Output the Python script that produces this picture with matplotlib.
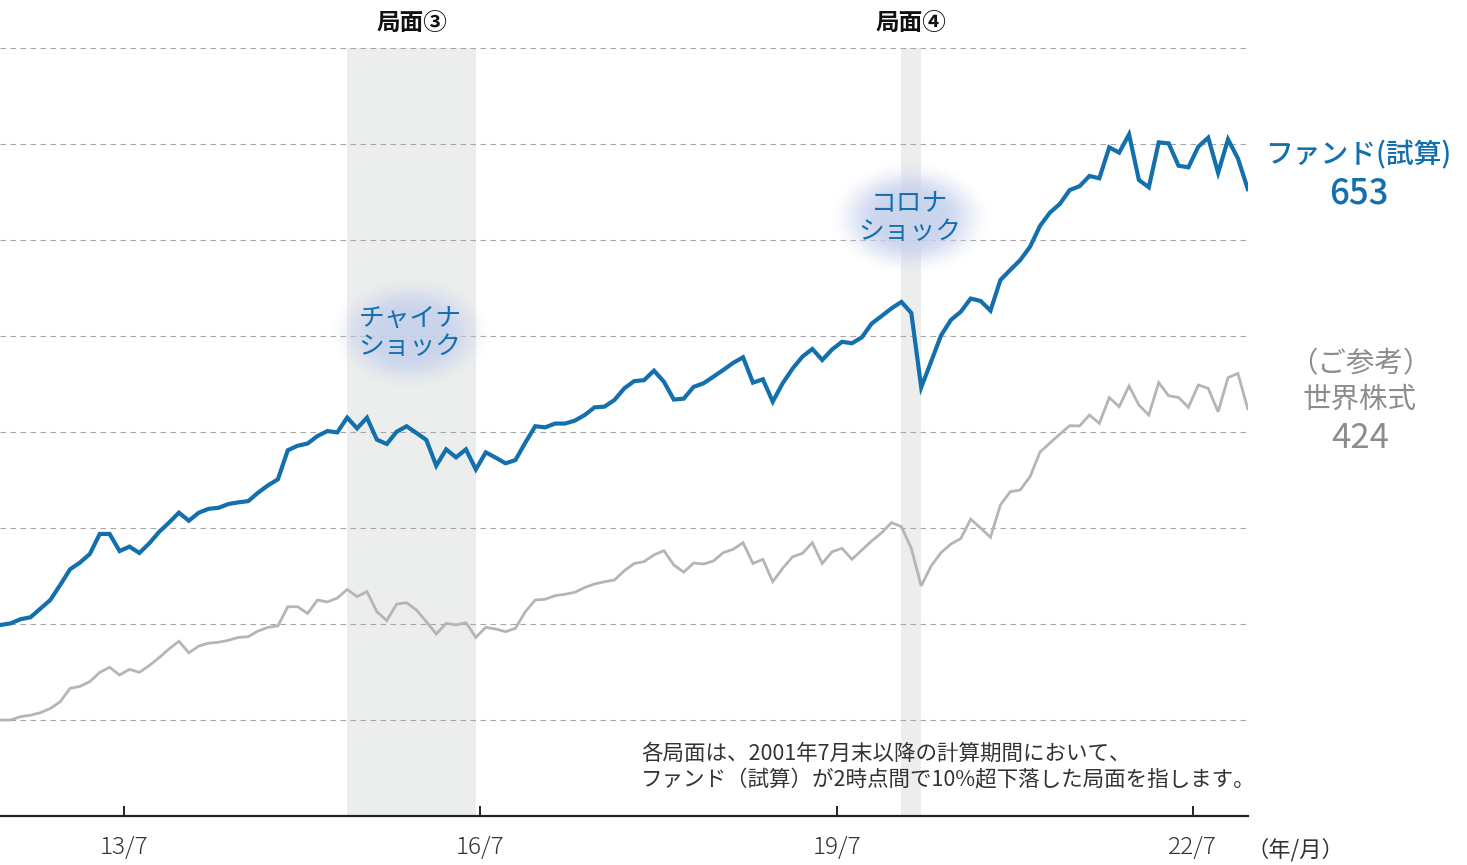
import numpy as np
import pandas as pd
import matplotlib
matplotlib.use("Agg")
import matplotlib.pyplot as plt

plt.rcParams['font.family'] = ['Noto Sans CJK JP', 'DejaVu Sans']

# ---------------- data ----------------
start_month = "2012-06"
fund = [199, 200.7, 205, 207, 216, 225, 240.6, 257, 264, 273,
        293.8, 293.8, 276, 280.6, 274, 284, 296, 305.6, 316, 307.6,
        315.9, 320, 321, 325, 326.7, 328, 336.8, 344.4, 350.7, 381,
        385.7, 388, 395.8, 401, 399.6, 415, 403.8, 414.9, 392, 387.5,
        400.3, 406, 399, 391.7, 364.9, 381.9, 373.6, 381.9, 361, 378.8,
        373.3, 367.4, 370.8, 388.9, 406, 404.8, 408.8, 408.8, 411.8, 417.7,
        425.7, 426.4, 433.3, 445.5, 453, 454, 463.9, 452.4, 433.8, 434.7,
        447, 450.7, 457.6, 464.6, 472, 477.8, 451.4, 454.9, 431.6, 450.7,
        466, 478.5, 486.5, 475, 486, 494, 492.4, 498.6, 513, 520.8,
        528.8, 535.5, 524, 446.5, 473.3, 500.5, 516.7, 525.3, 539, 536.5,
        526.4, 558.3, 568.8, 579, 593, 614.6, 628.5, 637.5, 652, 656,
        666.7, 664.3, 696.5, 691, 710, 662.5, 654.9, 701.7, 700.7, 677.4,
        675.7, 697.2, 706.6, 670, 704.8, 685, 653]
world = [100, 100, 103.5, 105, 107.6, 112, 119, 133, 135, 140,
         149.6, 154.9, 146.9, 152.8, 149.6, 156.6, 165, 174, 182, 170,
         177, 180, 181, 183, 186, 186.8, 192.7, 196.5, 198, 218,
         218, 211, 225, 223, 227, 236, 228.5, 233.7, 212.8, 203.5,
         220.8, 222.2, 214.6, 202.4, 189.6, 200.7, 199, 201.4, 186, 196.5,
         194.8, 192, 195.5, 212.8, 225, 225.7, 229.5, 231, 233, 238,
         241.7, 244, 245.8, 255.5, 263, 265, 272, 276.4, 261.5, 254,
         263.5, 262.5, 265.6, 274.3, 277.8, 284.7, 263, 267.4, 244, 258,
         270, 273.6, 284.7, 263, 275.3, 278.8, 267.4, 277, 286.5, 295,
         305.6, 301.4, 278.8, 239.6, 260.4, 274.3, 283.3, 289, 309.2, 300,
         290.3, 324, 337.8, 339.6, 353.5, 379, 388.5, 397.7, 406.6, 406.3,
         417.7, 409, 435.8, 426.4, 447.9, 428, 417.7, 451.4, 437.8, 436,
         425.7, 449, 445.5, 421, 456.6, 461, 424]
tick_months = ["2013-07", "2016-07", "2019-07", "2022-07"]
tick_labels = ["13/7", "16/7", "19/7", "22/7"]
phase_names = ["局面③", "局面④"]
phase_ranges = [("2015-05", "2016-06"), ("2020-01", "2020-03")]
event_labels = ["チャイナ\nショック", "コロナ\nショック"]
event_x = [41.35, 91.85]
event_y = [503, 623]
fund_label = "ファンド(試算)"
world_label = "（ご参考）\n世界株式"
note = "各局面は、2001年7月末以降の計算期間において、\nファンド（試算）が2時点間で10%超下落した局面を指します。"

months = pd.period_range(start_month, periods=len(fund), freq="M")
idx = {str(m): i for i, m in enumerate(months)}
x = np.arange(len(fund))

BLUE = "#1470ad"
GREY = "#b5b5b5"
W, H = 1467, 865

fig = plt.figure(figsize=(W / 100, H / 100), dpi=100)
ax = fig.add_axes([0, 49 / H, 1248 / W, 768 / H])

# shaded phases
for (a, b) in phase_ranges:
    ax.axvspan(idx[a], idx[b], color="#eceeed", zorder=0, lw=0)

# glow bubbles behind event labels
gx = np.linspace(-1, 1, 240)
GX, GY = np.meshgrid(gx, gx)
R = np.sqrt(GX ** 2 + GY ** 2)
t = np.clip((R - 0.38) / 0.62, 0, 1)
alpha = (1 - t * t * (3 - 2 * t)) * 0.9
rgba = np.zeros((240, 240, 4))
rgba[..., 0] = 0.78
rgba[..., 1] = 0.82
rgba[..., 2] = 0.925
rgba[..., 3] = alpha
for cx, cy in zip(event_x, event_y):
    ax.imshow(rgba, extent=[cx - 8.3, cx + 8.3, cy - 60, cy + 60],
              aspect="auto", zorder=1.5, interpolation="bilinear")

for lab, cx, cy in zip(event_labels, event_x, event_y):
    ax.text(cx, cy, lab, ha="center", va="center", color=BLUE,
            fontsize=18.5, linespacing=1.1, zorder=5)

ax.plot(x, world, color=GREY, lw=2.0, zorder=3, solid_joinstyle="miter")
ax.plot(x, fund, color=BLUE, lw=3.0, zorder=4, solid_joinstyle="miter")

ax.set_xlim(-0.08, 126.02)
ax.set_ylim(0, 800)
ax.set_yticks(np.arange(0, 801, 100))
ax.set_yticklabels([])
ax.tick_params(axis="y", length=0)
ax.grid(axis="y", color="#a5a5a5", lw=0.8, linestyle=(0, (5, 4)))
ax.set_axisbelow(True)
ax.set_xticks([idx[m] - 0.55 for m in tick_months])
ax.set_xticklabels(tick_labels, fontsize=17.5, color="#333333", fontweight="light")
ax.tick_params(axis="x", direction="in", length=7, width=1.4, color="#222222", pad=14)
for s in ["top", "left", "right"]:
    ax.spines[s].set_visible(False)
ax.spines["bottom"].set_color("#222222")
ax.spines["bottom"].set_linewidth(1.6)
ax.patch.set_alpha(0)

# phase titles
for name, (a, b) in zip(phase_names, phase_ranges):
    xc = (idx[a] + idx[b]) / 2
    ax.text(xc, 800 + 26, name, ha="center", va="center", fontsize=17,
            fontweight="bold", color="#111111", clip_on=False)

# right labels
def fx(px):
    return px / W

def fy(py):
    return 1 - py / H

fig.text(fx(1358), fy(155), fund_label, ha="center", va="center", fontsize=20,
         color=BLUE, fontweight="medium")
fig.text(fx(1359), fy(193), f"{fund[-1]:.0f}", ha="center", va="center", fontsize=25,
         color=BLUE, fontweight="medium")
fig.text(fx(1360), fy(382), world_label, ha="center", va="center", fontsize=20.5,
         color="#8c8c8c", linespacing=1.2)
fig.text(fx(1360), fy(439), f"{world[-1]:.0f}", ha="center", va="center", fontsize=25,
         color="#8c8c8c")
fig.text(fx(1247), fy(850), "（年/月）", ha="left", va="center", fontsize=16,
         color="#333333")
fig.text(fx(641), fy(767), note, ha="left", va="center", fontsize=15.5,
         color="#333333", linespacing=1.3)

fig.savefig("out.png", dpi=100)
